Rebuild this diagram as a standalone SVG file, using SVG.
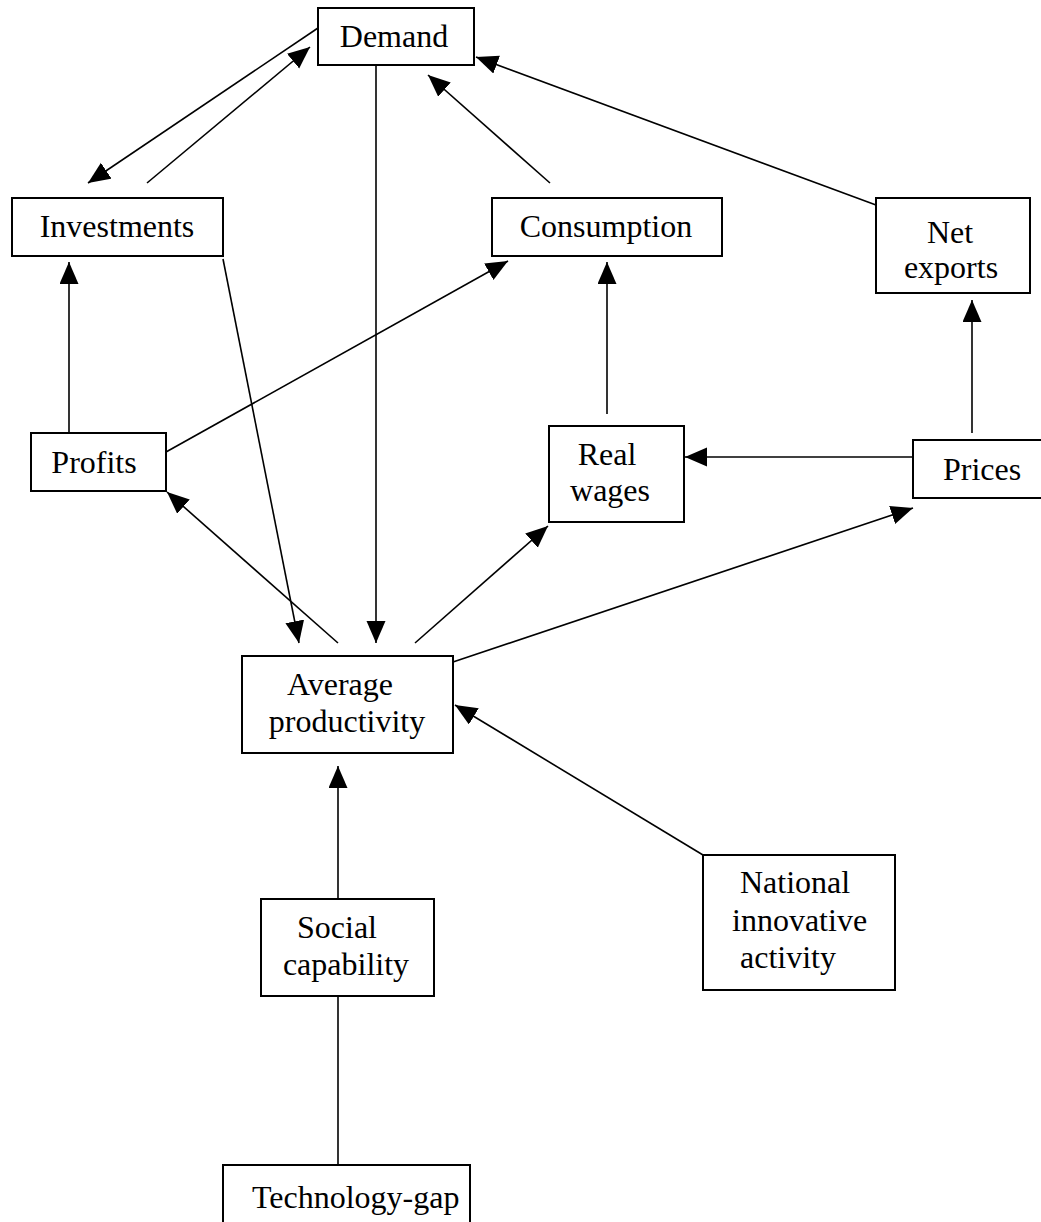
<svg xmlns="http://www.w3.org/2000/svg" width="1041" height="1222" viewBox="0 0 1041 1222">
<style>
.box{fill:#fff;stroke:#000;stroke-width:2}
.t{font-family:"Liberation Serif","Times New Roman",serif;font-size:32px;fill:#000}
.m{text-anchor:middle}
.c{stroke:#000;stroke-width:1.6;fill:none}
.a{marker-end:url(#ah)}
</style>
<defs>
<marker id="ah" markerUnits="userSpaceOnUse" markerWidth="23" markerHeight="20" refX="22" refY="9.5" orient="auto">
<path d="M0,0 L22,9.5 L0,19 z" fill="#000"/>
</marker>
</defs>
<rect width="1041" height="1222" fill="#fff"/>
<g id="connectors">
<line class="c a" x1="318" y1="28" x2="88" y2="183"/>
<line class="c a" x1="147" y1="183" x2="310" y2="47"/>
<line class="c a" x1="376" y1="65" x2="376" y2="643"/>
<line class="c a" x1="550" y1="183" x2="428" y2="75"/>
<line class="c a" x1="876" y1="205" x2="476" y2="57"/>
<line class="c a" x1="223" y1="259" x2="299" y2="643"/>
<line class="c a" x1="69" y1="433" x2="69" y2="262"/>
<line class="c a" x1="166" y1="452" x2="508" y2="261"/>
<line class="c a" x1="607" y1="414" x2="607" y2="262"/>
<line class="c a" x1="972" y1="433" x2="972" y2="300"/>
<line class="c a" x1="913" y1="457" x2="685" y2="457"/>
<line class="c a" x1="338" y1="643" x2="167" y2="492"/>
<line class="c a" x1="415" y1="643" x2="548" y2="526"/>
<line class="c a" x1="453" y1="662" x2="913" y2="508"/>
<line class="c a" x1="703" y1="855" x2="455" y2="705"/>
<line class="c a" x1="338" y1="899" x2="338" y2="766"/>
<line class="c" x1="338" y1="996" x2="338" y2="1165"/>
</g>
<g id="demand"><rect class="box" x="318" y="8" width="156" height="57"/><text class="t m" x="394" y="47">Demand</text></g>
<g id="investments"><rect class="box" x="12" y="198" width="211" height="58"/><text class="t m" x="117" y="237">Investments</text></g>
<g id="consumption"><rect class="box" x="492" y="198" width="230" height="58"/><text class="t m" x="606" y="237">Consumption</text></g>
<g id="net-exports"><rect class="box" x="876" y="198" width="154" height="95"/><text class="t m" x="950" y="243">Net</text><text class="t m" x="951" y="278">exports</text></g>
<g id="profits"><rect class="box" x="31" y="433" width="135" height="58"/><text class="t m" x="94" y="473">Profits</text></g>
<g id="real-wages"><rect class="box" x="549" y="426" width="135" height="96"/><text class="t m" x="607" y="465">Real</text><text class="t m" x="610" y="501">wages</text></g>
<g id="prices"><rect class="box" x="913" y="440" width="140" height="58"/><text class="t" x="943" y="480">Prices</text></g>
<g id="average-productivity"><rect class="box" x="242" y="656" width="211" height="97"/><text class="t m" x="340" y="695">Average</text><text class="t m" x="347" y="732">productivity</text></g>
<g id="social-capability"><rect class="box" x="261" y="899" width="173" height="97"/><text class="t m" x="337" y="938">Social</text><text class="t m" x="346" y="975">capability</text></g>
<g id="national-innovative-activity"><rect class="box" x="703" y="855" width="192" height="135"/><text class="t" x="740" y="893">National</text><text class="t" x="732" y="931">innovative</text><text class="t" x="740" y="968">activity</text></g>
<g id="technology-gap"><rect class="box" x="223" y="1165" width="247" height="70"/><text class="t" x="252" y="1208">Technology-gap</text></g>
</svg>
